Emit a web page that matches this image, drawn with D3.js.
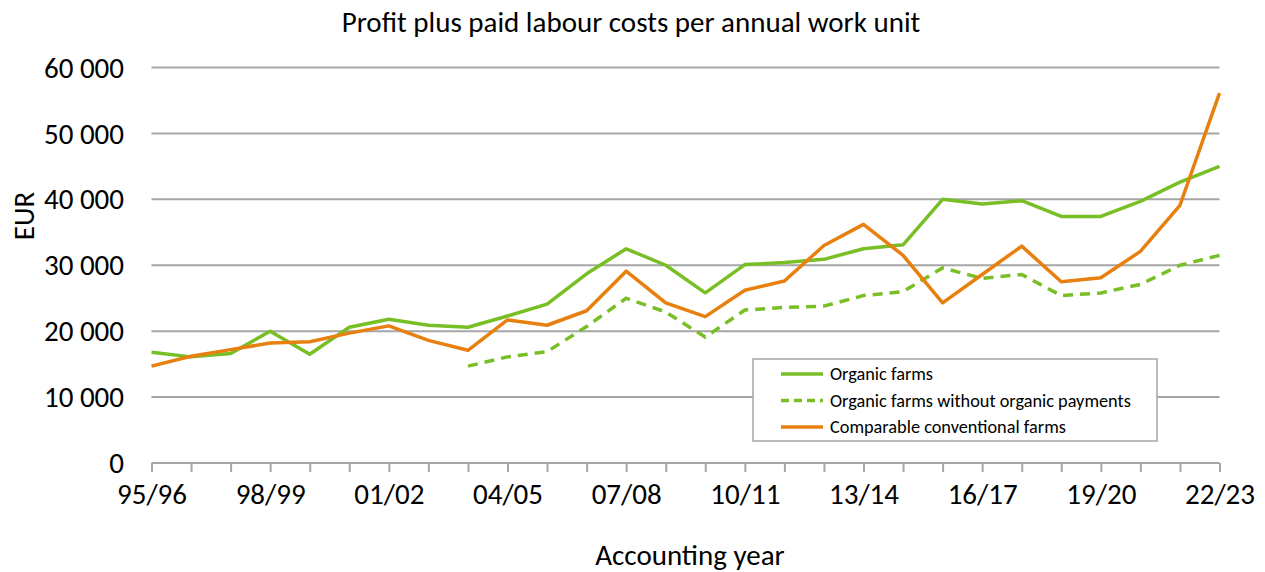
<!DOCTYPE html>
<html>
<head>
<meta charset="utf-8">
<script src="https://cdn.jsdelivr.net/npm/d3@7"></script>
<style>
  body { margin: 0; background: #fff; }
  svg { display: block; }
</style>
</head>
<body>
<svg id="svg"></svg>
<script>
// accounting years 95/96 .. 22/23
const years = ["95/96","96/97","97/98","98/99","99/00","00/01","01/02","02/03","03/04","04/05",
  "05/06","06/07","07/08","08/09","09/10","10/11","11/12","12/13","13/14","14/15",
  "15/16","16/17","17/18","18/19","19/20","20/21","21/22","22/23"];
const labelYears = ["95/96","98/99","01/02","04/05","07/08","10/11","13/14","16/17","19/20","22/23"];

const organic = [16800,16100,16600,20000,16500,20600,21800,20900,20600,22300,
  24100,28700,32500,30000,25800,30100,30400,30900,32500,33100,
  40000,39300,39800,37400,37400,39700,42600,45000];
const organicNoPay = [null,null,null,null,null,null,null,null,14700,16100,
  16900,20700,25000,22900,19100,23200,23600,23800,25400,26000,
  29600,28000,28600,25400,25800,27100,30000,31500];
const conventional = [14700,16200,17200,18200,18400,19700,20800,18600,17100,21700,
  20900,23100,29100,24300,22200,26200,27600,33000,36200,31500,
  24300,28600,32900,27500,28100,32100,39100,56100];

const yTicks = [0,10000,20000,30000,40000,50000,60000];

const green = "#78bf26", orange = "#e8800f", grid = "#a6a6a6";
const font = "Carlito, Calibri, 'Noto Sans', sans-serif";

const width = 1265, height = 572;
const svg = d3.select("#svg")
  .attr("width", width)
  .attr("height", height)
  .attr("font-family", font);

const x = d3.scalePoint(years, [151.5, 1219.5]);
const y = d3.scaleLinear([0, 60000], [463, 67.5]);

// gridlines
svg.append("g")
  .selectAll("line")
  .data(yTicks)
  .join("line")
  .attr("x1", 151.5).attr("x2", 1219.5)
  .attr("y1", d => y(d)).attr("y2", d => y(d))
  .attr("stroke", grid)
  .attr("stroke-width", 2);

// y labels
svg.append("g")
  .selectAll("text")
  .data(yTicks)
  .join("text")
  .attr("x", 124)
  .attr("y", d => y(d))
  .attr("dy", "0.35em")
  .attr("text-anchor", "end")
  .attr("font-size", 29)
  .attr("fill", "#000")
  .text(d => d3.format(",")(d).replace(/,/g, " "));

// x axis
const xAxis = svg.append("g")
  .attr("transform", "translate(0," + y(0) + ")")
  .call(d3.axisBottom(x).tickSize(9).tickFormat(d => labelYears.includes(d) ? d : ""));
xAxis.select(".domain").remove();
xAxis.selectAll(".tick line").attr("stroke", grid).attr("stroke-width", 2);
xAxis.selectAll(".tick text")
  .attr("y", 20)
  .attr("dy", "0.71em")
  .attr("font-size", 29)
  .attr("font-family", font)
  .attr("fill", "#000");

const line = d3.line()
  .defined(d => d != null)
  .x((d, i) => x(years[i]))
  .y(d => y(d));

svg.append("path").datum(organicNoPay)
  .attr("fill", "none").attr("stroke", green).attr("stroke-width", 3.5)
  .attr("stroke-dasharray", "10,7")
  .attr("d", line);
svg.append("path").datum(organic)
  .attr("fill", "none").attr("stroke", green).attr("stroke-width", 3.5)
  .attr("stroke-linejoin", "round")
  .attr("d", line);
svg.append("path").datum(conventional)
  .attr("fill", "none").attr("stroke", orange).attr("stroke-width", 3.5)
  .attr("stroke-linejoin", "round")
  .attr("d", line);

// titles
svg.append("text")
  .attr("x", 631).attr("y", 32)
  .attr("text-anchor", "middle")
  .attr("font-size", 29)
  .text("Profit plus paid labour costs per annual work unit");

svg.append("text")
  .attr("x", 690).attr("y", 565)
  .attr("text-anchor", "middle")
  .attr("font-size", 29)
  .text("Accounting year");

svg.append("text")
  .attr("transform", "translate(34,216)rotate(-90)")
  .attr("text-anchor", "middle")
  .attr("font-size", 29)
  .text("EUR");

// legend
const legendItems = [
  { label: "Organic farms", color: green, dash: null },
  { label: "Organic farms without organic payments", color: green, dash: "8,5" },
  { label: "Comparable conventional farms", color: orange, dash: null }
];
const legend = svg.append("g").attr("transform", "translate(753,359)");
legend.append("rect")
  .attr("width", 404).attr("height", 82)
  .attr("fill", "#fff").attr("stroke", grid).attr("stroke-width", 1.5);
const li = legend.selectAll("g.item")
  .data(legendItems)
  .join("g")
  .attr("transform", (d, i) => "translate(0," + (15 + i * 26.5) + ")");
li.append("line")
  .attr("x1", 28).attr("x2", 70)
  .attr("stroke", d => d.color).attr("stroke-width", 3.5)
  .attr("stroke-dasharray", d => d.dash);
li.append("text")
  .attr("x", 77).attr("dy", "0.35em")
  .attr("font-size", 18.3)
  .text(d => d.label);
</script>
</body>
</html>
